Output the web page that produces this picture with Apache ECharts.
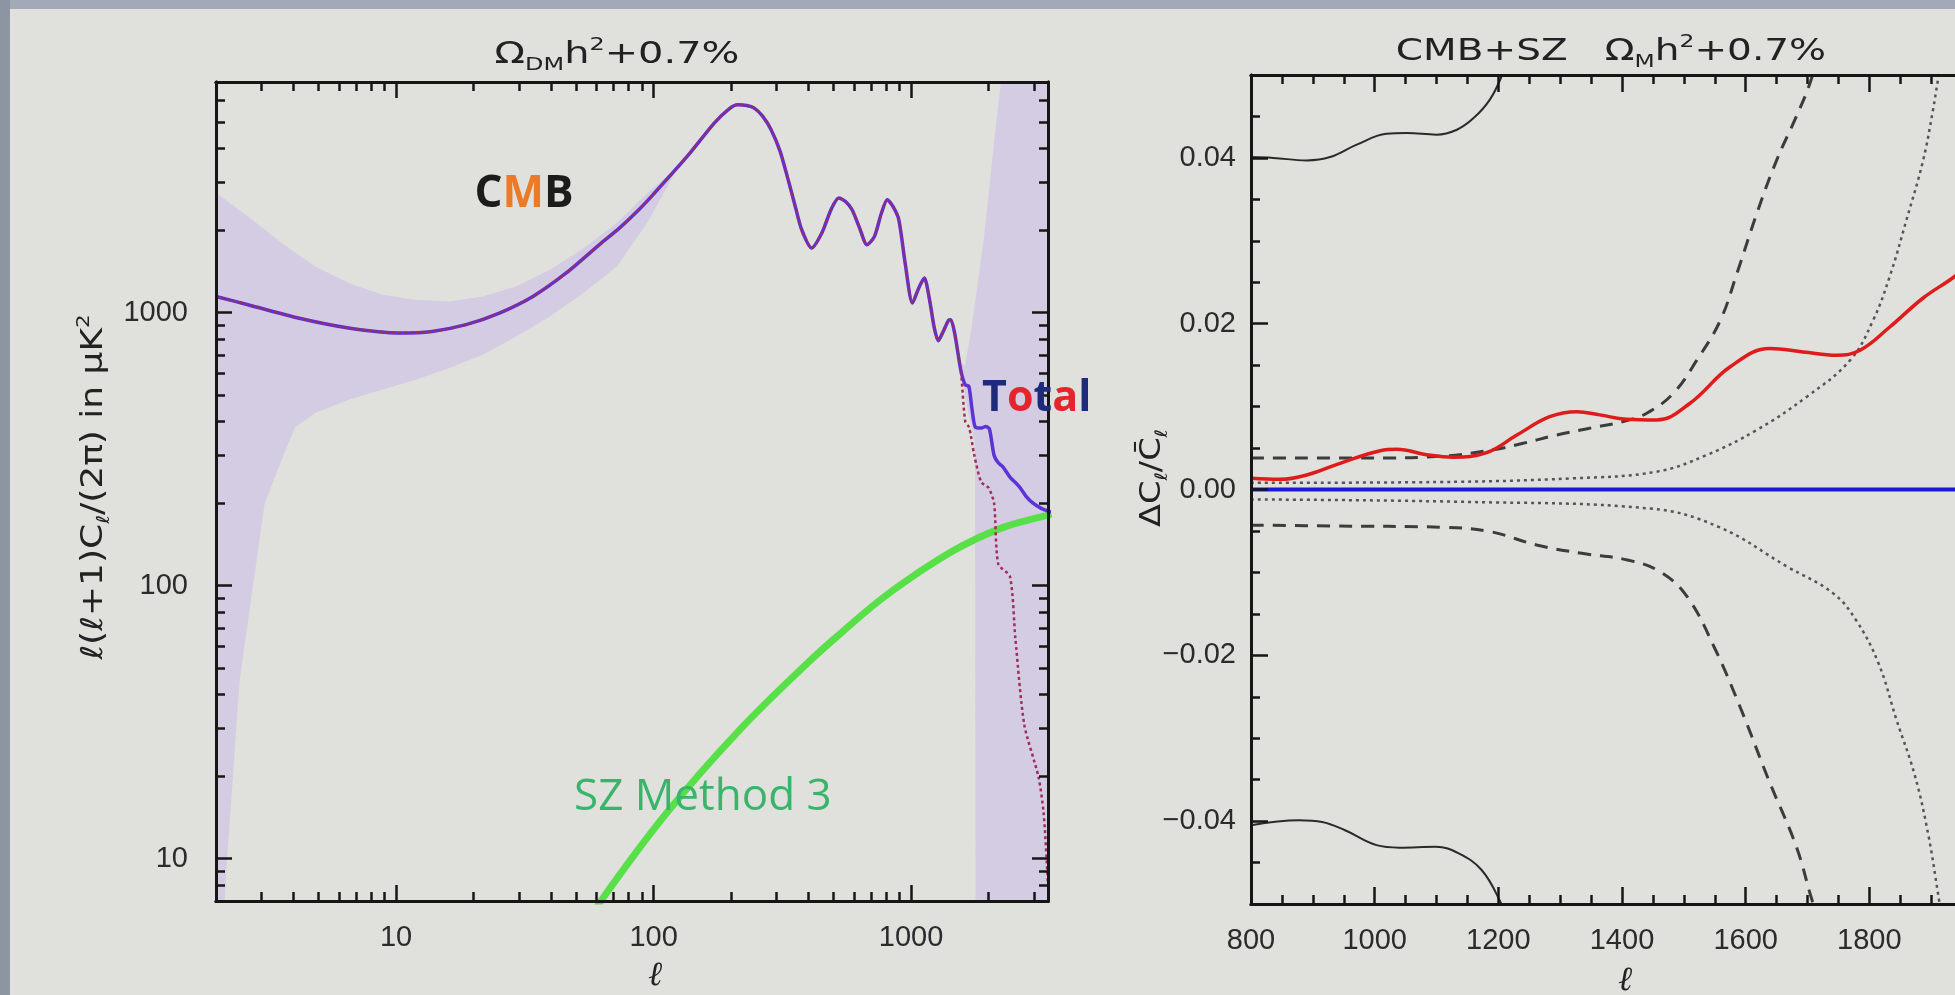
<!DOCTYPE html>
<html lang="en">
<head>
<meta charset="utf-8">
<title>CMB + SZ, Omega_M h^2 + 0.7%</title>
<script src="https://cdn.jsdelivr.net/npm/echarts@6/dist/echarts.min.js"></script>
<style>
    html, body {
        margin: 0;
        height: 100%;
        overflow: hidden;
        background: #e0e0dd;
    }

    #chart {
        width: 1955px;
        height: 995px;
    }
</style>
</head>
<body>
<div id="chart"></div>
<script>
    // ---- left panel: l(l+1)Cl/2pi vs l, log-log ----
    const lowEll = [2, 2.66, 4.17, 6.54, 10.3, 13.8, 18.7, 25.2, 34, 45.8, 61.8, 74, 89, 100, 135, 172, 195, 212, 230, 246,
        265, 286, 310, 333, 355, 376, 411, 450, 490, 524, 555, 590, 630, 674, 720, 765, 808, 850, 896, 950, 1012, 1070,
        1125, 1180, 1230, 1275, 1330, 1400, 1426, 1480, 1558];
    const lowVal = [1147, 1070, 956, 879, 843, 854, 904, 997, 1147, 1398, 1780, 2050, 2420, 2720, 3735, 4950, 5550, 5775, 5740, 5615,
        5250, 4682, 3900, 3072, 2450, 2013, 1725, 1958, 2400, 2630, 2560, 2383, 2050, 1775, 1900, 2300, 2594, 2450, 2190, 1500, 1085, 1230,
        1340, 1110, 880, 790, 850, 940, 943, 830, 618];

    // after the split: Total (CMB + SZ) and CMB alone
    const totHiEll = [1558, 1620, 1676, 1720, 1778, 1870, 1950, 2014, 2100, 2180, 2268, 2420, 2625, 2800, 2966, 3200, 3437, 3500];
    const totHiVal = [618, 545, 537, 450, 380, 378, 383, 375, 300, 282, 273, 250, 231, 212, 201, 192, 187, 186];
    const cmbHiEll = [1558, 1622, 1680, 1760, 1870, 2000, 2100, 2180, 2420, 2540, 2750, 3120, 3270, 3380, 3450];
    const cmbHiVal = [618, 400, 380, 300, 240, 228, 200, 120, 108, 64, 31, 20, 14.7, 8.9, 6];

    // SZ method 3
    const szEll = [55, 66, 113, 212, 398, 538, 750, 982, 1412, 1778, 2340, 3437, 3500];
    const szVal = [5.8, 7.54, 14.8, 29.1, 52.3, 67.5, 88, 106, 132, 148, 165, 182, 183];

    // shaded error band (low l and high l pieces)
    const bandAHiEll = [2, 2.66, 3.6, 4.85, 6.54, 8.83, 11.9, 16.1, 21.7, 29.3, 39.6, 53.4, 72, 95, 125];
    const bandAHiVal = [2750, 2253, 1800, 1477, 1285, 1164, 1116, 1100, 1147, 1248, 1437, 1724, 2130, 2750, 3450];
    const bandALoEll = [2, 2.18, 2.47, 3.09, 3.6, 4.05, 4.85, 6.54, 8.83, 11.9, 16.1, 21.7, 29.3, 39.6, 53.4, 72, 95, 125];
    const bandALoVal = [1, 8.4, 45, 200, 290, 380, 429, 480, 522, 568, 627, 702, 819, 969, 1180, 1477, 2150, 3450];
    const bandBHiEll = [1540, 1620, 1695, 1808, 1920, 2014, 2110, 2213, 2300, 3500];
    const bandBHiVal = [660, 640, 819, 1248, 1902, 2900, 4420, 6530, 9000, 9000];
    const bandBLoEll = [1540, 1650, 1720, 1770, 1785, 3500];
    const bandBLoVal = [660, 450, 380, 330, 1, 1];

    const leftMajor = [10, 100, 1000];
    const leftXMinor = [3, 4, 5, 6, 7, 8, 9, 20, 30, 40, 50, 60, 70, 80, 90, 200, 300, 400, 500, 600, 700, 800, 900, 2000, 3000];
    const leftYMinor = [8, 9, 20, 30, 40, 50, 60, 70, 80, 90, 200, 300, 400, 500, 600, 700, 800, 900, 2000, 3000, 4000, 5000, 6000];

    // ---- right panel: dCl/Cl vs l ----
    const redEll = [800, 847, 890, 944, 1009, 1036, 1084, 1127, 1181, 1230, 1283, 1327, 1364, 1407, 1456, 1510, 1575, 1639,
        1693, 1747, 1785, 1833, 1887, 1938, 2000];
    const redVal = [0.00135, 0.00123, 0.00175, 0.00316, 0.00468, 0.00485, 0.0042, 0.0039, 0.00444, 0.00657, 0.00878, 0.00939,
        0.0090, 0.00847, 0.00838, 0.0104, 0.0148, 0.0170, 0.0166, 0.0162, 0.0168, 0.0196, 0.0231, 0.0257, 0.0295];
    const solidUpEll = [800, 836, 890, 928, 971, 1019, 1052, 1100, 1133, 1160, 1186, 1205, 1225];
    const solidUpVal = [0.0401, 0.0400, 0.0397, 0.0401, 0.0416, 0.0429, 0.0430, 0.0428, 0.0434, 0.0448, 0.0470, 0.0498, 0.054];
    const solidDnEll = [800, 878, 915, 952, 1003, 1040, 1099, 1136, 1173, 1203, 1220];
    const solidDnVal = [-0.0405, -0.0399, -0.0401, -0.0411, -0.0429, -0.0432, -0.0431, -0.0439, -0.0459, -0.0497, -0.053];
    const dashUpEll = [800, 1000, 1106, 1192, 1240, 1294, 1348, 1402, 1440, 1483, 1521, 1559, 1586, 1618, 1650, 1682, 1704, 1715];
    const dashUpVal = [0.0038, 0.0038, 0.0040, 0.0048, 0.00557, 0.00657, 0.0074, 0.0082, 0.0092, 0.0116, 0.0156, 0.0204,
        0.0261, 0.0333, 0.0397, 0.0450, 0.0490, 0.052];
    const dashDnEll = [800, 930, 1114, 1188, 1262, 1335, 1409, 1461, 1505, 1549, 1593, 1637, 1682, 1708, 1720];
    const dashDnVal = [-0.0043, -0.0044, -0.00456, -0.0051, -0.0067, -0.0077, -0.0085, -0.0099, -0.0129, -0.0190, -0.0266,
        -0.0350, -0.0431, -0.0497, -0.052];
    const dotUpEll = [800, 1100, 1321, 1456, 1537, 1618, 1699, 1769, 1806, 1833, 1860, 1887, 1903, 1911, 1918];
    const dotUpVal = [0.0008, 0.0009, 0.00135, 0.00215, 0.00416, 0.00718, 0.0112, 0.0156, 0.0204, 0.0257, 0.0325, 0.0397,
        0.0458, 0.0494, 0.052];
    const dotDnEll = [800, 1151, 1446, 1556, 1667, 1741, 1778, 1815, 1844, 1874, 1896, 1911, 1918];
    const dotDnVal = [-0.0012, -0.0015, -0.0023, -0.0045, -0.0093, -0.0125, -0.0157, -0.0210, -0.0278, -0.0346, -0.0419,
        -0.0487, -0.052];
    const zeroEll = [800, 2000];
    const zeroVal = [0, 0];

    const rightXMajor = [800, 1000, 1200, 1400, 1600, 1800, 2000];
    const rightYMajor = [-0.04, -0.02, 0, 0.02, 0.04];

    const rightXMinor = [];
    for (let v = 850; v < 2000; v += 50) {
        if (v % 200 !== 0) rightXMinor.push(v);
    }
    const rightYMinor = [];
    for (let k = -9; k <= 9; k++) {
        if (k % 4 !== 0) rightYMinor.push(Math.round(k * 5) / 1000);
    }

    function pairs(xs, ys) {
        return xs.map((x, i) => [x, ys[i]]);
    }

    const labelStyle = {fontFamily: 'Liberation Sans', fontSize: 29, color: '#2b2b2b'};
    const LX_MAX = 3400;

    function axis(grid, type, min, max, pos, ticks, len, labels, fmt, margin) {
        const ax = {
            type: type, gridIndex: grid, min: min, max: max, position: pos, z: 10,
            axisLine: {show: true, onZero: false, lineStyle: {color: '#161616', width: 3}},
            axisTick: {show: true, inside: true, length: len, customValues: ticks, lineStyle: {color: '#161616', width: 2.5}},
            axisLabel: {show: false},
            splitLine: {show: false}
        };
        if (type === 'log') ax.logBase = 10;
        if (labels) {
            ax.axisLabel = Object.assign({show: true, customValues: labels, formatter: fmt, margin: margin}, labelStyle);
        }
        return ax;
    }

    const logFmt = v => String(Math.round(v));
    const linFmt = v => (v < -1e-9 ? '\u2212' + Math.abs(v).toFixed(2) : Math.abs(v).toFixed(2));

    const xAxes = [
        axis(0, 'log', 2, LX_MAX, 'bottom', leftMajor, 16, leftMajor, logFmt, 22),
        axis(0, 'log', 2, LX_MAX, 'bottom', leftXMinor, 9),
        axis(0, 'log', 2, LX_MAX, 'top', leftMajor, 16),
        axis(0, 'log', 2, LX_MAX, 'top', leftXMinor, 9),
        axis(1, 'value', 800, 2000, 'bottom', rightXMajor, 17, rightXMajor, v => String(v), 22),
        axis(1, 'value', 800, 2000, 'bottom', rightXMinor, 9),
        axis(1, 'value', 800, 2000, 'top', rightXMajor, 17),
        axis(1, 'value', 800, 2000, 'top', rightXMinor, 9)
    ];

    const yAxes = [
        axis(0, 'log', 7, 7000, 'left', leftMajor, 16, leftMajor, logFmt, 28),
        axis(0, 'log', 7, 7000, 'left', leftYMinor, 9),
        axis(0, 'log', 7, 7000, 'right', leftMajor, 16),
        axis(0, 'log', 7, 7000, 'right', leftYMinor, 9),
        axis(1, 'value', -0.05, 0.05, 'left', rightYMajor, 17, rightYMajor, linFmt, 15),
        axis(1, 'value', -0.05, 0.05, 'left', rightYMinor, 9),
        axis(1, 'value', -0.05, 0.05, 'right', rightYMajor, 17),
        axis(1, 'value', -0.05, 0.05, 'right', rightYMinor, 9)
    ];

    function band(hiEll, hiVal, loEll, loVal) {
        return {
            type: 'custom', xAxisIndex: 0, yAxisIndex: 0, silent: true, clip: true, z: 1,
            data: [[10, 100]],
            renderItem: function (params, api) {
                const pts = [];
                for (let i = 0; i < hiEll.length; i++) pts.push(api.coord([hiEll[i], hiVal[i]]));
                for (let i = loEll.length - 1; i >= 0; i--) pts.push(api.coord([loEll[i], loVal[i]]));
                const cs = params.coordSys;
                return {
                    type: 'polygon',
                    shape: {points: pts},
                    style: {fill: '#d4cce2'},
                    clipPath: {type: 'rect', shape: {x: cs.x, y: cs.y, width: cs.width, height: cs.height}}
                };
            }
        };
    }

    function line(xi, data, color, width, type, smooth, z) {
        return {
            type: 'line', xAxisIndex: xi, yAxisIndex: xi, data: data, showSymbol: false, silent: true,
            smooth: smooth, z: z || 3,
            lineStyle: {color: color, width: width, type: type || 'solid'}
        };
    }

    const series = [
        band(bandAHiEll, bandAHiVal, bandALoEll, bandALoVal),
        band(bandBHiEll, bandBHiVal, bandBLoEll, bandBLoVal),
        line(0, pairs(szEll, szVal), '#58e048', 7, 'solid', 0.4, 3),
        line(0, pairs(lowEll.concat(totHiEll.slice(1)), lowVal.concat(totHiVal.slice(1))), '#5b33d6', 3.5, 'solid', 0.25, 4),
        line(0, pairs(lowEll.concat(cmbHiEll.slice(1)), lowVal.concat(cmbHiVal.slice(1))), '#9e2c5c', 2.5, [3, 3], 0.25, 5),
        line(4, pairs(zeroEll, zeroVal), '#1a1ad2', 4, 'solid', false, 3),
        line(4, pairs(dotUpEll, dotUpVal), '#555', 2.5, [3, 4], 0.4, 4),
        line(4, pairs(dotDnEll, dotDnVal), '#555', 2.5, [3, 4], 0.4, 4),
        line(4, pairs(dashUpEll, dashUpVal), '#3c3c3c', 3, [13, 9], 0.4, 4),
        line(4, pairs(dashDnEll, dashDnVal), '#3c3c3c', 3, [13, 9], 0.4, 4),
        line(4, pairs(solidUpEll, solidUpVal), '#2a2a2a', 2, 'solid', 0.4, 4),
        line(4, pairs(solidDnEll, solidDnVal), '#2a2a2a', 2, 'solid', 0.4, 4),
        line(4, pairs(redEll, redVal), '#e01b1b', 3.5, 'solid', 0.4, 5)
    ];

    // IDL-style wide lettering for titles and axis names
    function idlRich(size) {
        const f = 'DejaVu Sans';
        const s = Math.round(size * 0.6);
        return {
            a: {fontFamily: f, fontSize: size, fill: '#222', lineHeight: size + 8},
            s: {fontFamily: f, fontSize: s, fill: '#222', lineHeight: s, verticalAlign: 'bottom'},
            p: {fontFamily: f, fontSize: s, fill: '#222', lineHeight: s, verticalAlign: 'top'}
        };
    }

    function idlText(x, y, text, size, sx, rot) {
        return {
            type: 'text', z: 100, x: x, y: y, scaleX: sx, rotation: rot || 0,
            style: {text: text, align: 'center', verticalAlign: 'middle', rich: idlRich(size)}
        };
    }

    const chart = echarts.init(document.getElementById('chart'), null, {renderer: 'canvas'});
    chart.setOption({
        backgroundColor: '#e0e0dd',
        animation: false,
        grid: [
            {left: 216, top: 82, width: 832, height: 819, outerBoundsMode: 'none'},
            {left: 1251, top: 75, width: 742, height: 829, outerBoundsMode: 'none'}
        ],
        xAxis: xAxes,
        yAxis: yAxes,
        series: series,
        graphic: [
            {type: 'rect', z: 0, shape: {x: 0, y: 0, width: 1955, height: 9}, style: {fill: '#a3a9b6'}},
            {type: 'rect', z: 0, shape: {x: 0, y: 0, width: 10, height: 995}, style: {fill: '#8d94a2'}},
            idlText(617, 55, '{a|\u03a9}{s|DM}{a|h}{p|2}{a|+0.7%}', 30, 1.33),
            idlText(1611, 52, '{a|CMB+SZ   \u03a9}{s|M}{a|h}{p|2}{a|+0.7%}', 30, 1.3),
            idlText(94, 487, '{a|\u2113(\u2113+1)C}{s|\u2113}{a|/(2\u03c0) in \u03bcK}{p|2}', 30, 1.2, Math.PI / 2),
            idlText(1153, 478, '{a|\u0394C}{s|\u2113}{a|/C\u0304}{s|\u2113}', 28, 1.2, Math.PI / 2),
            {
                type: 'text', z: 100, x: 655, y: 976,
                style: {text: '\u2113', align: 'center', verticalAlign: 'middle',
                    fontFamily: 'DejaVu Serif', fontStyle: 'italic', fontSize: 34, fill: '#222'}
            },
            {
                type: 'text', z: 100, x: 1625, y: 981,
                style: {text: '\u2113', align: 'center', verticalAlign: 'middle',
                    fontFamily: 'DejaVu Serif', fontStyle: 'italic', fontSize: 34, fill: '#222'}
            },
            {
                type: 'text', z: 100, x: 524, y: 194,
                style: {
                    text: '{k|C}{o|M}{k|B}', align: 'center', verticalAlign: 'middle',
                    rich: {
                        k: {fontFamily: 'Open Sans', fontWeight: 'bold', fontSize: 44, fill: '#1c1c1c'},
                        o: {fontFamily: 'Open Sans', fontWeight: 'bold', fontSize: 44, fill: '#ec7a28'}
                    }
                }
            },
            {
                type: 'text', z: 100, x: 982, y: 399,
                style: {
                    text: '{n|T}{r|o}{n|t}{r|a}{n|l}', align: 'left', verticalAlign: 'middle',
                    rich: {
                        n: {fontFamily: 'Open Sans', fontWeight: 'bold', fontSize: 43, fill: '#1e2a7a'},
                        r: {fontFamily: 'Open Sans', fontWeight: 'bold', fontSize: 43, fill: '#e2262c'}
                    }
                }
            },
            {
                type: 'text', z: 100, x: 574, y: 797,
                style: {
                    text: 'SZ Method 3', align: 'left', verticalAlign: 'middle',
                    fontFamily: 'Open Sans', fontSize: 44, fill: '#38b56b'
                }
            }
        ]
    });
</script>
</body>
</html>
